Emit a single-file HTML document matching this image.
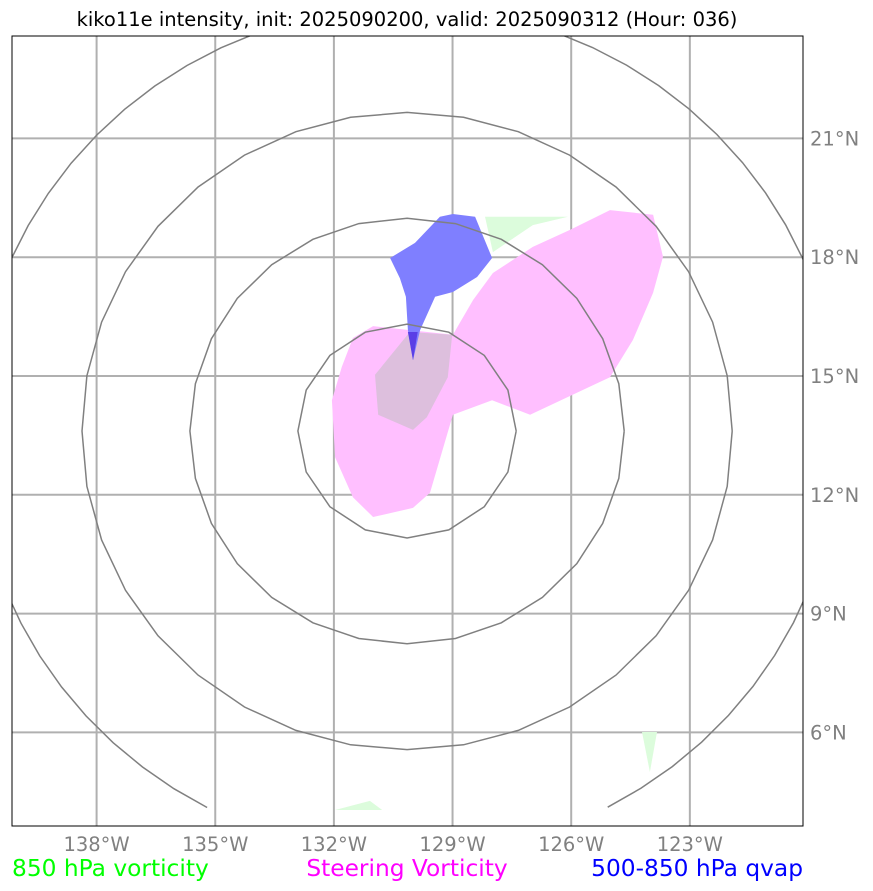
<!DOCTYPE html>
<html><head><meta charset="utf-8"><style>
body{margin:0;background:#fff;}
svg{display:block;font-family:"DejaVu Sans","Liberation Sans",sans-serif;}
</style></head><body>
<svg id="chart" width="873" height="891" viewBox="0 0 873 891">
<defs><clipPath id="clip"><rect x="12" y="36" width="791" height="790"/></clipPath></defs>
<text x="407" y="26" font-size="19.5" text-anchor="middle" fill="#000">kiko11e intensity, init: 2025090200, valid: 2025090312 (Hour: 036)</text>
<g id="plot" clip-path="url(#clip)"></g>
<rect x="12" y="36" width="791" height="790" fill="none" stroke="#000" stroke-width="1"/>
<g id="ticks"></g>
<text x="12" y="876" font-size="23.3" fill="#00ff00">850 hPa vorticity</text>
<text x="407" y="876" font-size="23.3" fill="#ff00ff" text-anchor="middle">Steering Vorticity</text>
<text x="803" y="876" font-size="23.3" fill="#0000ff" text-anchor="end">500-850 hPa qvap</text>
</svg>
<script>
const lonTicks=[-138,-135,-132,-129,-126,-123];
const latTicks=[21,18,15,12,9,6];
const pinkLon=[-131.01,-129.90,-128.99,-128.48,-127.98,-126.97,-126.03,-125.02,-123.93,-123.68,-123.93,-124.44,-125.02,-127.04,-128.00,-128.99,-129.57,-130.00,-131.01,-131.52,-131.97,-132.05,-131.80,-131.52];
const pinkLat=[16.26,16.14,16.04,16.92,17.60,18.26,18.69,19.19,19.07,18.01,17.10,15.91,14.97,14.02,14.39,14.02,12.05,11.67,11.44,11.94,12.95,14.39,15.23,15.96];
const overlapLon=[-130.08,-129.01,-129.12,-129.65,-130.00,-130.88,-130.96];
const overlapLat=[16.11,16.04,14.97,13.96,13.64,14.02,15.03];
const blueLon=[-130.58,-129.95,-129.32,-128.99,-128.43,-128.00,-128.38,-128.99,-129.44,-129.82,-130.00,-130.13,-130.18,-130.33];
const blueLat=[17.98,18.36,19.02,19.09,19.02,17.98,17.50,17.12,17.00,16.16,15.40,16.16,17.00,17.47];
const spikeLon=[-130.13,-129.88,-130.00];
const spikeLat=[16.11,16.11,15.40];
const green1Lon=[-128.18,-126.08,-126.97,-127.98];
const green1Lat=[19.02,19.02,18.81,18.13];
const green2Lon=[-131.97,-131.09,-130.78];
const green2Lat=[4.04,4.27,4.04];
const green3Lon=[-124.21,-123.83,-124.01];
const green3Lat=[6.01,6.01,5.00];
const ringCenterLon=-130.15, ringCenterLat=13.61;
const ringRadiiDeg=[2.76,5.49,8.22,10.95];

const NS='http://www.w3.org/2000/svg';
const X=lon=>413+(lon+130)*39.55;
const Y=lat=>376-(lat-15)*39.6;
const plot=document.getElementById('plot');
const ticks=document.getElementById('ticks');
function mk(tag,attrs,parent){const e=document.createElementNS(NS,tag);for(const k in attrs)e.setAttribute(k,attrs[k]);parent.appendChild(e);return e;}
function poly(lons,lats,fill,name){
  const p=lons.map((l,i)=>X(l).toFixed(1)+','+Y(lats[i]).toFixed(1)).join(' ');
  const e=mk('polygon',{points:p,fill:fill},plot);
  
  
}
lonTicks.forEach(l=>{
  const e=mk('line',{x1:X(l),x2:X(l),y1:36,y2:826,stroke:'#b0b0b0','stroke-width':2},plot);
  
  
  const t=mk('text',{x:X(l),y:851,'font-size':19.5,fill:'#808080','text-anchor':'middle'},ticks);
  t.textContent=Math.abs(l)+'°W';
  
  
});
latTicks.forEach(l=>{
  const e=mk('line',{x1:12,x2:803,y1:Y(l),y2:Y(l),stroke:'#b0b0b0','stroke-width':2},plot);
  
  
  const t=mk('text',{x:810,y:Y(l)+7,'font-size':19.5,fill:'#808080'},ticks);
  t.textContent=l+'°N';
  
  
});
poly(green1Lon,green1Lat,'#dcfcdc','green-vorticity-north');
poly(green2Lon,green2Lat,'#dcfcdc','green-vorticity-south');
poly(green3Lon,green3Lat,'#dcfcdc','green-vorticity-east');
poly(pinkLon,pinkLat,'#ffbfff','steering-vorticity');
poly(overlapLon,overlapLat,'#ddbfdd','overlap-region');
poly(blueLon,blueLat,'#7f7fff','qvap-region');
poly(spikeLon,spikeLat,'#5a3fe6','qvap-core');
const cx=X(ringCenterLon), cy=Y(ringCenterLat);
ringRadiiDeg.forEach((rd,i)=>{
  const r=rd*39.55;
  const pts=[];
  if(i<3){
    const n=[16,28,36][i];
    for(let k=0;k<=n;k++){const a=k/n*2*Math.PI;pts.push((cx+r*Math.cos(a)).toFixed(1)+','+(cy+r*0.98*Math.sin(a)).toFixed(1));}
  } else {
    const a0=117.5*Math.PI/180, a1=422.4*Math.PI/180, n=60;
    for(let k=0;k<=n;k++){const a=a0+(a1-a0)*k/n;pts.push((cx+r*Math.cos(a)).toFixed(1)+','+(cy+r*0.98*Math.sin(a)).toFixed(1));}
  }
  const e=mk('polyline',{points:pts.join(' '),fill:'none',stroke:'#808080','stroke-width':1.5},plot);
  
  
});
</script>
</body></html>
